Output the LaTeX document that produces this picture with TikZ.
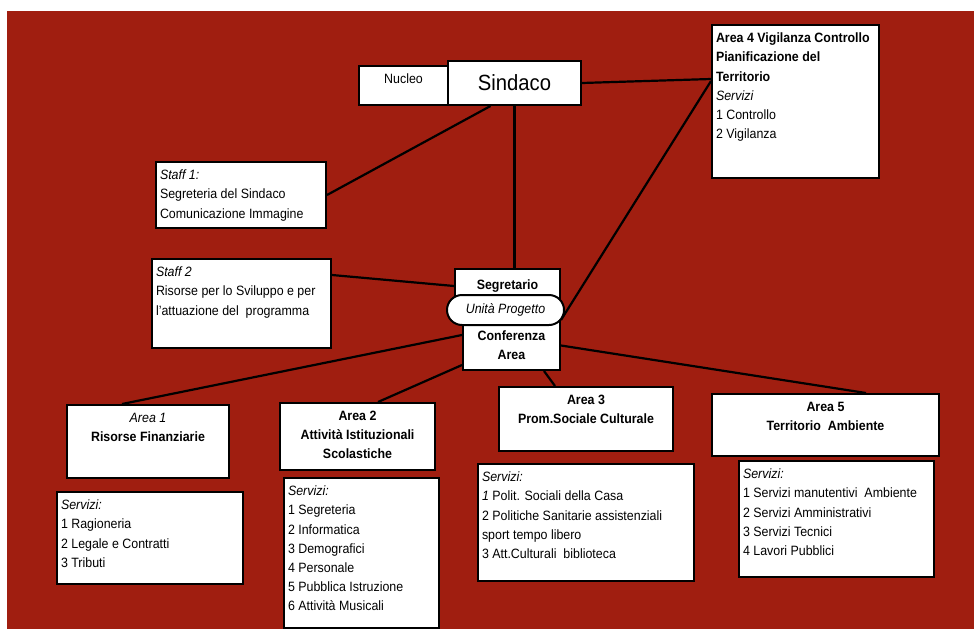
\documentclass[tikz,border=0pt]{standalone}
\usepackage{fontspec}
\setmainfont{Liberation Sans}[FakeStretch=0.92]
\usetikzlibrary{calc}
\definecolor{bgred}{RGB}{160,30,16}
\newcommand{\boxtext}[3]{\parbox[c][#2][t]{#1}{#3}}

\begin{document}
\begin{tikzpicture}[x=1pt,y=-1pt,
  blk/.style={draw,fill=white,line width=2pt,anchor=north west,inner xsep=4pt,inner ysep=8pt,font=\fontsize{13.5}{19.2}\selectfont},
  link/.style={line width=2.2pt}]
\useasboundingbox (0,0) rectangle (974,629);
\fill[bgred] (7,11) rectangle (974,629);

% top
\node[blk] (nucleo) at (358,65) {\boxtext{81pt}{23pt}{\centering Nucleo}};
\node[blk,font=\fontsize{22}{24}\selectfont,minimum width=133pt,minimum height=44pt] (sindaco) at (447,60) {Sindaco};
\node[blk] (area4) at (711,24) {\boxtext{159pt}{137pt}{\raggedright\textbf{Area 4 Vigilanza Controllo}\\ \textbf{Pianificazione del}\\ \textbf{Territorio}\\ \textit{Servizi}\\ 1 Controllo\\ 2 Vigilanza}};

% staff
\node[blk] (staff1) at (155,161) {\boxtext{162pt}{50pt}{\raggedright\textit{Staff 1:}\\ Segreteria del Sindaco\\ Comunicazione Immagine}};
\node[blk] (staff2) at (151,258) {\boxtext{171pt}{73pt}{\raggedright\textit{Staff 2}\\ Risorse per lo Sviluppo e per\\ l'attuazione del\ \ programma}};

% centre
\node[blk,font=\bfseries\fontsize{13.5}{19.2}\selectfont,minimum width=105pt,minimum height=34pt] (segr) at (454,268) {Segretario};
\node[blk,font=\bfseries\fontsize{13.5}{19.2}\selectfont,align=center,minimum width=97pt,minimum height=49pt] (conf) at (462,320) {Conferenza\\ Area};

% areas
\node[blk] (area1) at (66,404) {\boxtext{154pt}{57pt}{\centering\textit{Area 1}\\ \textbf{Risorse Finanziarie}}};
\node[blk] (serv1) at (56,491) {\boxtext{178pt}{76pt}{\raggedright\textit{Servizi:}\\ 1 Ragioneria\\ 2 Legale e Contratti\\ 3 Tributi}};
\node[blk] (area2) at (279,402) {\boxtext{147pt}{51pt}{\centering\bfseries Area 2\\ Attività Istituzionali\\ Scolastiche}};
\node[blk] (serv2) at (283,477) {\boxtext{147pt}{134pt}{\raggedright\textit{Servizi:}\\ 1 Segreteria\\ 2 Informatica\\ 3 Demografici\\ 4 Personale\\ 5 Pubblica Istruzione\\ 6 Attività Musicali}};
\node[blk] (area3) at (498,386) {\boxtext{166pt}{48pt}{\centering\bfseries Area 3\\ Prom.Sociale Culturale}};
\node[blk] (serv3) at (477,463) {\boxtext{208pt}{101pt}{\raggedright\textit{Servizi:}\\ \textit{1} Polit. Sociali della Casa\\ 2 Politiche Sanitarie assistenziali\\ sport tempo libero\\ 3 Att.Culturali\ \ biblioteca}};
\node[blk] (area5) at (711,393) {\boxtext{219pt}{46pt}{\centering\bfseries Area 5\\ Territorio\ \ Ambiente}};
\node[blk] (serv5) at (738,460) {\boxtext{187pt}{100pt}{\raggedright\textit{Servizi:}\\ 1 Servizi manutentivi\ \ Ambiente\\ 2 Servizi Amministrativi\\ 3 Servizi Tecnici\\ 4 Lavori Pubblici}};

% connectors
\draw[link] (sindaco.south) -- (sindaco.south |- segr.north);
\draw[link] ($(sindaco.south)+(-24,0)$) -- (staff1.east);
\draw[link] (sindaco.east) -- ($(area4.north west)+(0,55)$);
\draw[link] ($(area4.north west)+(0,57)$) -- (conf.north east);
\draw[link] ($(staff2.north east)+(0,17)$) -- (segr.west);
\draw[link] ($(conf.north west)+(0,15)$) -- ($(area1.north west)+(56,0)$);
\draw[link] ($(conf.south west)+(0,-6)$) -- ($(area2.north west)+(99,0)$);
\draw[link] ($(conf.south west)+(82,0)$) -- ($(area3.north west)+(57,0)$);
\draw[link] (conf.east) -- ($(area5.north west)+(155,0)$);

\node[draw,fill=white,line width=2pt,rounded corners=15pt,minimum width=117pt,minimum height=30pt,font=\itshape\fontsize{13.5}{14}\selectfont] (unita) at (505.5,310) {Unità Progetto};
\end{tikzpicture}
\end{document}
